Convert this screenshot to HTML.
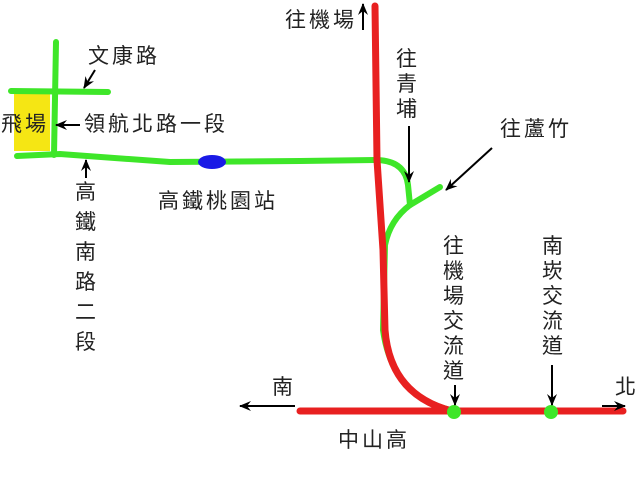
<!DOCTYPE html>
<html><head><meta charset="utf-8"><style>
body{margin:0;background:#fff;}
svg text{font-family:"Liberation Sans","Noto Sans CJK TC",sans-serif;font-size:21px;letter-spacing:3px;fill:#222;}
</style></head><body>
<svg width="640" height="480" viewBox="0 0 640 480" xmlns="http://www.w3.org/2000/svg">
<defs><marker id="a" markerWidth="12" markerHeight="10" refX="11" refY="5" orient="auto" markerUnits="userSpaceOnUse"><path d="M0,0 L12,5 L0,10 L4,5 Z" fill="#000"/></marker></defs>
<rect x="14" y="94" width="36" height="57" fill="#f5e614"/>
<g stroke="#3ee629" stroke-width="6" fill="none" stroke-linecap="round">
<path d="M56,42 L54,155"/>
<path d="M11,91 L108,92"/>
<path d="M17,156 L60,154 L170,162 L300,161 L375,160 Q405,160 408,185 L410,205"/>
<path d="M410,205 L440,187"/>
<path d="M410,205 Q390,220 385,245 L383,330 Q392,395 450,410"/>
</g>
<ellipse cx="212" cy="162" rx="14" ry="7" fill="#1a1ae6"/>
<g stroke="#e82020" stroke-width="7" fill="none" stroke-linecap="round">
<path d="M375,6 L377,160 L383,250 L385,330 Q390,395 452,411"/>
<path d="M300,411 L623,411"/>
</g>
<circle cx="454" cy="412" r="7" fill="#3ee629"/>
<circle cx="551" cy="412" r="7" fill="#3ee629"/>
<g stroke="#000" stroke-width="2" fill="none" marker-end="url(#a)">
<path d="M363,30 L363,4"/>
<path d="M95,70 L84,88"/>
<path d="M80,125 L56,125"/>
<path d="M86,178 L86,160"/>
<path d="M409,126 L409,182"/>
<path d="M492,148 L446,190"/>
<path d="M455,385 L455,405"/>
<path d="M552,365 L552,405"/>
<path d="M295,406 L240,406"/>
<path d="M602,406 L625,406"/>
</g>
<text x="285" y="27">往機場</text>
<text x="88" y="63">文康路</text>
<text x="1" y="131">飛場</text>
<text x="84" y="131">領航北路一段</text>
<text x="158" y="208">高鐵桃園站</text>
<text x="500" y="136">往蘆竹</text>
<text x="338" y="447">中山高</text>
<text x="272" y="394">南</text>
<text x="615" y="394">北</text>
<g text-anchor="middle" style="letter-spacing:0">
<text x="87" y="199">高</text><text x="87" y="229">鐵</text><text x="87" y="259">南</text><text x="87" y="289">路</text><text x="87" y="301" dy="18">二</text><text x="87" y="349" dy="-0">段</text>
<text x="408" y="66">往</text><text x="408" y="91">青</text><text x="408" y="116">埔</text>
<text x="455" y="253">往</text><text x="455" y="278">機</text><text x="455" y="303">場</text><text x="455" y="328">交</text><text x="455" y="353">流</text><text x="455" y="378">道</text>
<text x="554" y="253">南</text><text x="554" y="278">崁</text><text x="554" y="303">交</text><text x="554" y="328">流</text><text x="554" y="353">道</text>
</g>
</svg>
</body></html>
